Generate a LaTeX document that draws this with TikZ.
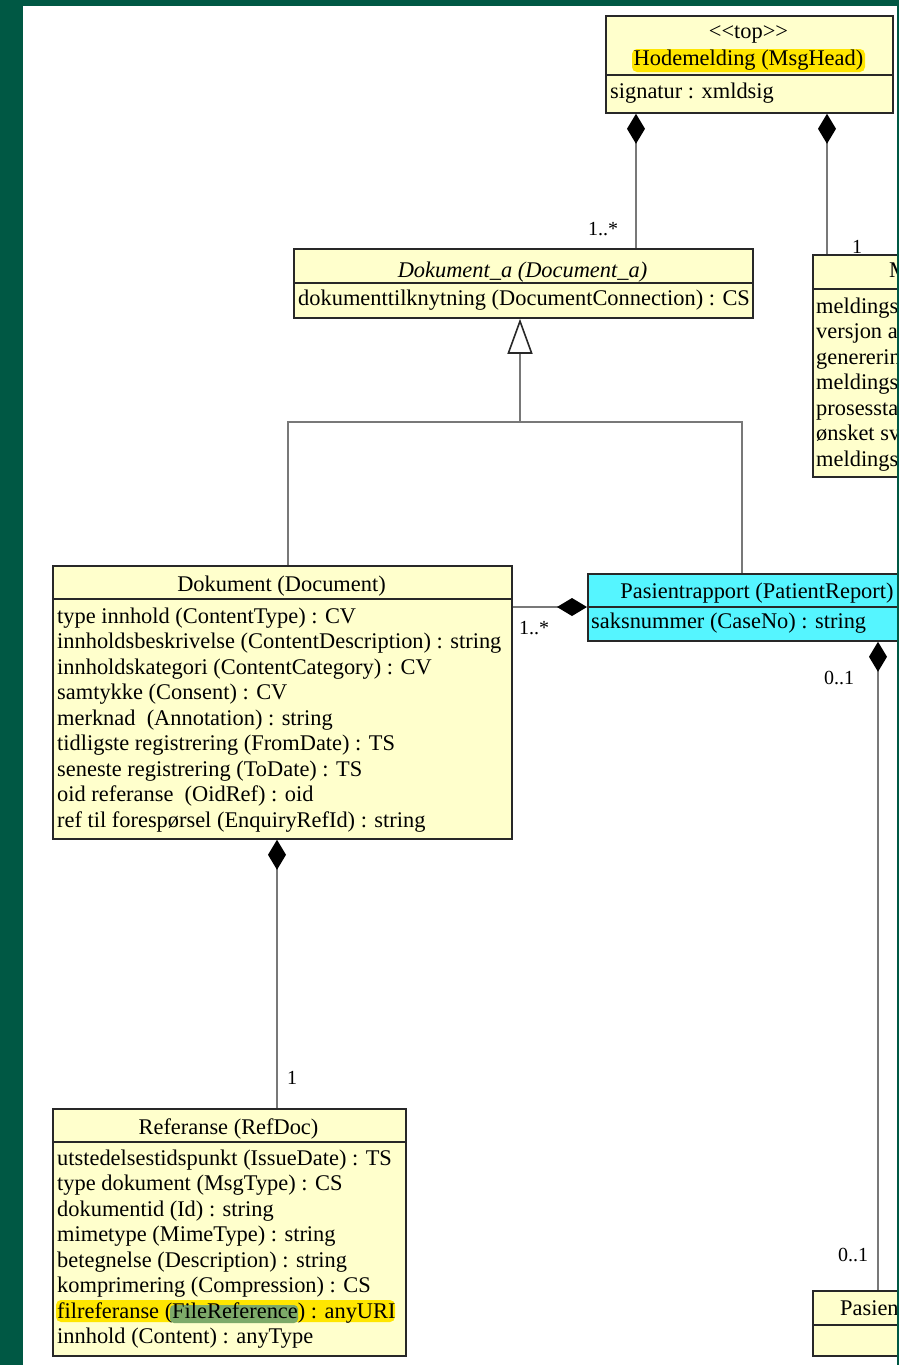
\documentclass[tikz,border=0pt]{standalone}
\usepackage{fontspec}
\setmainfont{Liberation Serif}
\usetikzlibrary{arrows.meta}

\definecolor{frame}{RGB}{0,88,68}
\definecolor{clsfill}{RGB}{255,255,204}
\definecolor{rptfill}{RGB}{85,245,255}
\definecolor{boxline}{RGB}{40,40,40}
\definecolor{connline}{RGB}{120,120,120}
\definecolor{marker}{RGB}{255,230,0}
\definecolor{marker2}{RGB}{125,170,105}

\begin{document}
\begin{tikzpicture}[x=1pt, y=-1pt,
        every node/.style={font=\fontsize{22.4}{25.5}\selectfont, inner sep=0pt},
        umlclass/.style={draw=boxline, fill=clsfill, line width=1.8pt, anchor=north west},
        divider/.style={draw=boxline, line width=1.8pt},
        txt/.style={anchor=base west},
        title/.style={anchor=base},
        mult/.style={anchor=base west, font=\fontsize{20}{24}\selectfont},
        conn/.style={draw=connline, line width=2.4pt},
        compo/.style={conn, {Diamond[length=30pt, width=18pt, color=black, fill=black]}-},
        gen/.style={conn, -{Triangle[open, length=35pt, width=25pt, color=boxline, fill=white, line width=1.6pt]}}
    ]
        % page and frame
        \clip (0,0) rectangle (899,1365);
        \fill[frame] (0,0) rectangle (899,1365);
        \fill[white] (23,6) rectangle (897,1365);

        % Hodemelding (top)
        \node[umlclass, minimum width=287, minimum height=97] (hode) at (605,15) {};
        \draw[divider] ([yshift=-60]hode.north west) -- ([yshift=-60]hode.north east);
        \fill[marker, rounded corners=5pt] (632,49) rectangle (865,72);
        \node[title] (hodeSt) at (748.5,38) {<\kern0pt<top>\kern0pt>};
        \node[title] (hodeT) at (748.5,65) {Hodemelding (MsgHead)};
        \node[txt] (hodeA) at (610,98) {signatur : xmldsig};

        % M... class, cut off at the right edge
        \node[umlclass, minimum width=110, minimum height=222] (minfo) at (812,254) {};
        \draw[divider] ([yshift=-35]minfo.north west) -- ([yshift=-35]minfo.north east);
        \node[txt] (minfoT) at (889,277) {M};
        \foreach \a [count=\i from 0] in {meldings, versjon a, genererin, meldings, prosessta, ønsket sv, meldings}
            \node[txt] (minfoA\i) at (816,313+25.5*\i) {\a};

        % Dokument_a
        \node[umlclass, minimum width=459, minimum height=69] (dokA) at (293,248) {};
        \draw[divider] ([yshift=-35]dokA.north west) -- ([yshift=-35]dokA.north east);
        \node[title] (dokAT) at (522.5,277) {\itshape Dokument\_a (Document\_a)};
        \node[txt] (dokAA) at (298,305) {dokumenttilknytning (DocumentConnection) : CS};

        % Dokument
        \node[umlclass, minimum width=459, minimum height=273] (dok) at (52,565) {};
        \draw[divider] ([yshift=-34]dok.north west) -- ([yshift=-34]dok.north east);
        \node[title] (dokT) at (281.5,591) {Dokument (Document)};
        \foreach \a [count=\i from 0] in {
            {type innhold (ContentType) : CV},
            {innholdsbeskrivelse (ContentDescription) : string},
            {innholdskategori (ContentCategory) : CV},
            {samtykke (Consent) : CV},
            {merknad\ \ (Annotation) : string},
            {tidligste registrering (FromDate) : TS},
            {seneste registrering (ToDate) : TS},
            {oid referanse\ \ (OidRef) : oid},
            {ref til forespørsel (EnquiryRefId) : string}}
            \node[txt] (dokA\i) at (57,623+25.5*\i) {\a};

        % Pasientrapport
        \node[umlclass, fill=rptfill, minimum width=340, minimum height=67] (pr) at (587,573) {};
        \draw[divider] ([yshift=-34]pr.north west) -- ([yshift=-34]pr.north east);
        \node[title] (prT) at (757,598) {Pasientrapport (PatientReport)};
        \node[txt] (prA) at (591,628) {saksnummer (CaseNo) : string};

        % Referanse
        \node[umlclass, minimum width=353, minimum height=247] (ref) at (52,1108) {};
        \draw[divider] ([yshift=-34]ref.north west) -- ([yshift=-34]ref.north east);
        \fill[marker, rounded corners=5pt] (56,1300) rectangle (395,1322);
        \fill[marker2, rounded corners=4pt] (170,1305) rectangle (298,1323);
        \node[title] (refT) at (228.5,1134) {Referanse (RefDoc)};
        \foreach \a [count=\i from 0] in {
            {utstedelsestidspunkt (IssueDate) : TS},
            {type dokument (MsgType) : CS},
            {dokumentid (Id) : string},
            {mimetype (MimeType) : string},
            {betegnelse (Description) : string},
            {komprimering (Compression) : CS},
            {filreferanse (FileReference) : anyURI},
            {innhold (Content) : anyType}}
            \node[txt] (refA\i) at (57,1165+25.5*\i) {\a};

        % Pasien... class, cut off at the right edge
        \node[umlclass, minimum width=110, minimum height=65] (pas) at (812,1290) {};
        \draw[divider] ([yshift=-35]pas.north west) -- ([yshift=-35]pas.north east);
        \node[txt] (pasT) at (840,1315) {Pasien};

        % compositions
        \draw[compo] ([xshift=31]hode.south west) -- ([xshift=343]dokA.north west);
        \draw[compo] ([xshift=222]hode.south west) -- ([xshift=15]minfo.north west);
        \draw[compo] ([yshift=-34]pr.north west) -- ([yshift=-42]dok.north east);
        \draw[compo] ([xshift=291]pr.south west) -- ([xshift=66]pas.north west);
        \draw[compo] ([xshift=225]dok.south west) -- ([xshift=225]ref.north west);

        % generalization
        \coordinate (gjoin) at (520,422);
        \draw[conn] ([xshift=236]dok.north west) |- (gjoin) -| ([xshift=155]pr.north west);
        \draw[gen] (gjoin) -- ([xshift=227]dokA.south west);

        % multiplicities
        \node[mult] (m1) at (588,235) {1..*};
        \node[mult] (m2) at (852,253) {1};
        \node[mult] (m3) at (519,634) {1..*};
        \node[mult] (m4) at (824,684) {0..1};
        \node[mult] (m5) at (838,1261) {0..1};
        \node[mult] (m6) at (287,1084) {1};

        % right frame strip on top
        \fill[frame] (897,0) rectangle (899,1365);
\end{tikzpicture}
\end{document}
